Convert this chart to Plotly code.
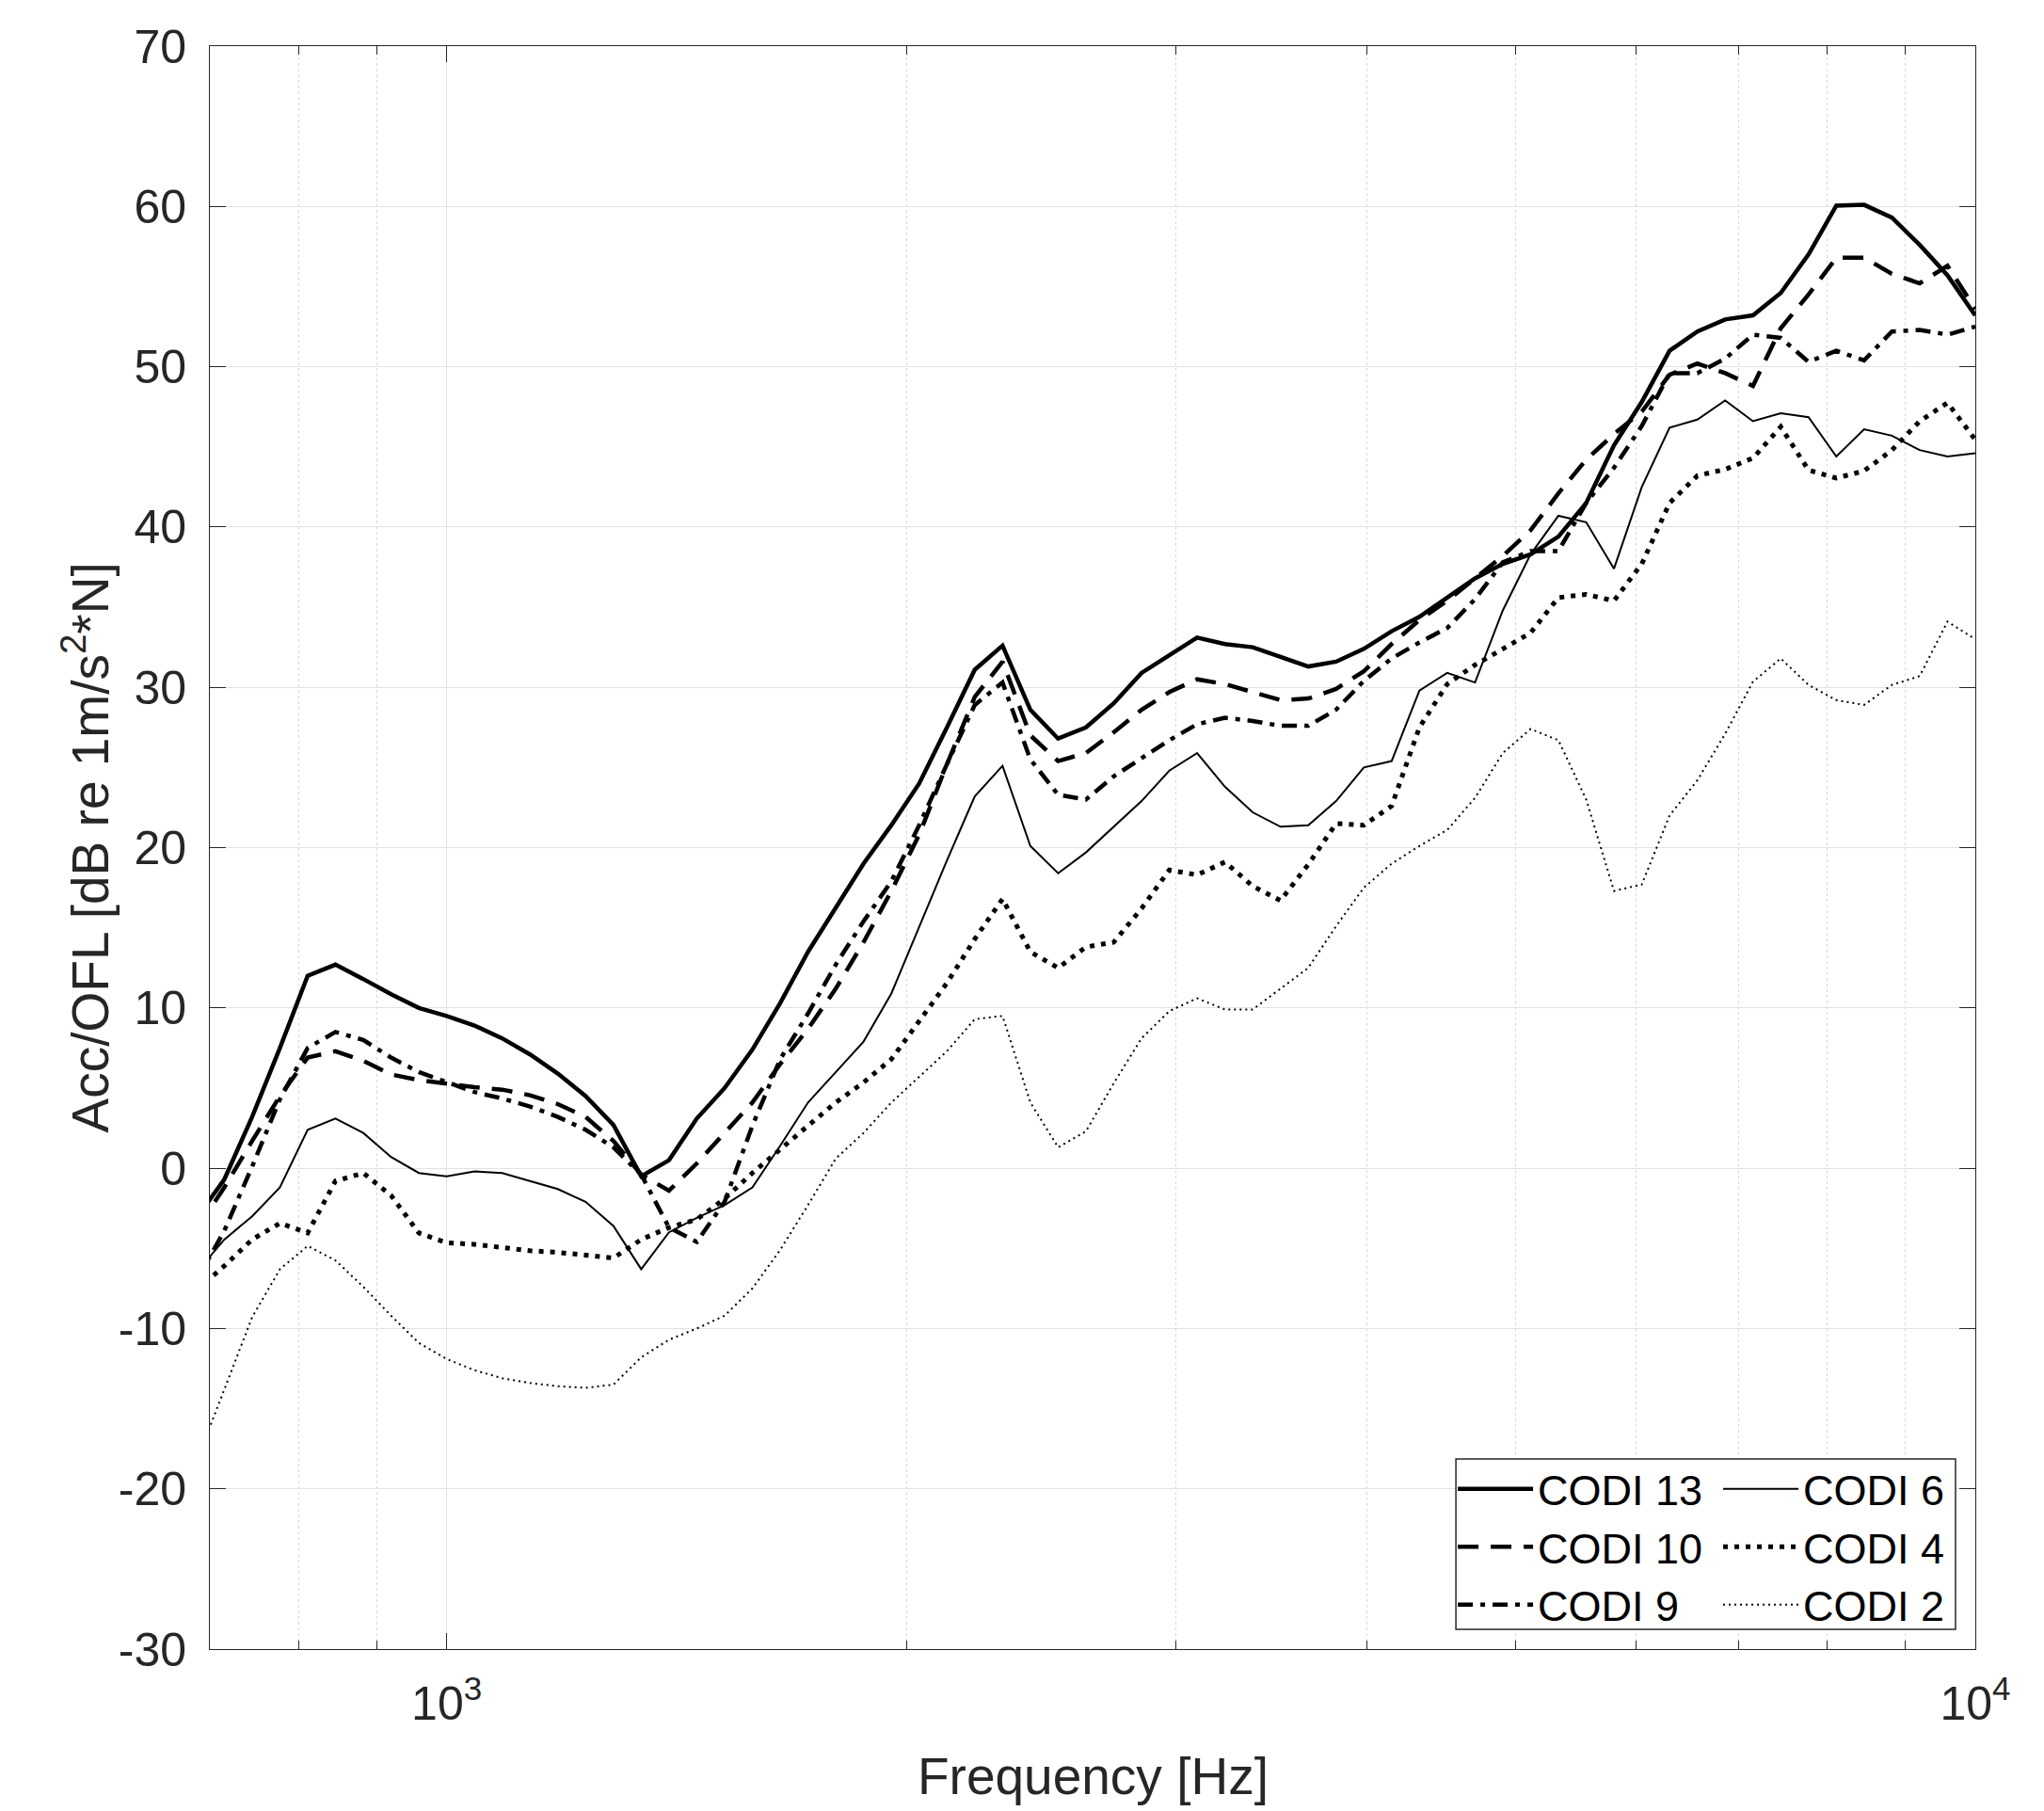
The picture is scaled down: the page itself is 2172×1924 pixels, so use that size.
import plotly.graph_objects as go

# Frequency axis (Hz)
freq = [686.1, 715.4, 746.0, 777.9, 811.1, 845.8, 882.0, 919.7, 959.0,
        1000.0, 1042.8, 1087.3, 1133.8, 1182.3, 1232.8, 1285.6, 1340.5, 1397.8, 1457.6,
        1519.9, 1584.9, 1652.7, 1723.4, 1797.0, 1873.8, 1954.0, 2037.5, 2124.6, 2215.5,
        2310.2, 2409.0, 2512.0, 2619.4, 2731.4, 2848.2, 2969.9, 3096.9, 3229.3, 3367.4,
        3511.4, 3661.5, 3818.0, 3981.1, 4151.3, 4328.8, 4513.9, 4706.9, 4908.1, 5118.0,
        5336.8, 5564.9, 5802.8, 6050.9, 6309.6, 6579.3, 6860.6, 7153.9, 7459.7, 7778.6,
        8111.1, 8457.8, 8819.4, 9196.4, 9589.5, 10000.0]

codi13 = [-3.1, -0.7, 3.2, 7.5, 12.0, 12.7, 11.8, 10.85, 10.0,
          9.5, 8.9, 8.1, 7.1, 5.9, 4.5, 2.7, -0.5, 0.5, 3.1,
          5.0, 7.4, 10.3, 13.5, 16.3, 19.0, 21.4, 24.0, 27.5, 31.1,
          32.6, 28.6, 26.8, 27.5, 29.0, 30.9, 32.0, 33.1, 32.7, 32.5,
          31.9, 31.3, 31.6, 32.4, 33.5, 34.4, 35.6, 36.8, 37.7, 38.3,
          39.4, 41.5, 45.1, 47.8, 51.0, 52.2, 52.95, 53.2, 54.6, 57.0,
          60.05, 60.1, 59.3, 57.6, 55.7, 53.2]

codi10 = [-3.8, -1.2, 1.7, 4.5, 6.9, 7.3, 6.7, 5.85, 5.5,
          5.25, 5.05, 4.9, 4.55, 4.0, 3.2, 1.7, -0.4, -1.4, 0.3,
          2.2, 4.1, 6.5, 8.7, 11.2, 14.1, 17.3, 20.8, 25.2, 29.4,
          31.6, 27.0, 25.4, 25.9, 27.2, 28.6, 29.7, 30.5, 30.2, 29.7,
          29.2, 29.3, 29.9, 31.0, 32.7, 34.2, 35.4, 36.8, 38.2, 39.8,
          42.1, 44.2, 45.8, 47.2, 49.5, 50.2, 49.6, 48.8, 52.4, 54.5,
          56.8, 56.8, 55.8, 55.2, 56.3, 53.6]

codi9 = [-7.0, -3.9, 0.1, 4.3, 7.5, 8.5, 8.0, 6.9, 6.0,
         5.35, 4.75, 4.35, 3.85, 3.2, 2.4, 1.3, -0.4, -3.7, -4.6,
         -2.1, 2.65, 6.8, 9.65, 12.7, 15.4, 17.9, 21.4, 25.2, 28.9,
         30.3, 25.5, 23.3, 23.0, 24.45, 25.6, 26.7, 27.7, 28.1, 27.9,
         27.6, 27.6, 28.6, 30.4, 31.8, 32.8, 33.7, 35.5, 37.8, 38.5,
         38.5, 41.5, 43.7, 46.3, 49.6, 49.6, 50.5, 52.0, 51.8, 50.3,
         51.0, 50.4, 52.2, 52.3, 52.0, 52.5]

codi6 = [-6.5, -4.45, -3.0, -1.2, 2.4, 3.1, 2.2, 0.7, -0.3,
         -0.5, -0.2, -0.3, -0.8, -1.3, -2.1, -3.6, -6.3, -4.0, -3.1,
         -2.3, -1.2, 1.4, 4.1, 6.0, 7.9, 10.9, 15.1, 19.2, 23.2,
         25.1, 20.1, 18.4, 19.7, 21.3, 22.9, 24.8, 25.9, 23.8, 22.2,
         21.3, 21.4, 22.9, 25.0, 25.4, 29.8, 30.9, 30.3, 34.8, 38.3,
         40.7, 40.3, 37.4, 42.5, 46.2, 46.7, 47.9, 46.6, 47.1, 46.85,
         44.4, 46.1, 45.7, 44.8, 44.4, 44.6]

codi4 = [-7.6, -6.1, -4.45, -3.43, -4.04, -0.8, -0.3, -1.7, -4.04,
         -4.65, -4.75, -4.95, -5.15, -5.25, -5.4, -5.6, -4.45, -3.7, -3.2,
         -1.9, -0.3, 1.2, 2.65, 4.1, 5.35, 6.8, 9.2, 11.55, 14.3,
         16.8, 13.5, 12.5, 13.8, 14.1, 16.2, 18.6, 18.3, 19.1, 17.6,
         16.7, 18.95, 21.5, 21.4, 22.6, 27.5, 30.2, 31.4, 32.4, 33.4,
         35.6, 35.8, 35.4, 37.7, 41.5, 43.2, 43.6, 44.3, 46.25, 43.55,
         43.05, 43.5, 44.8, 46.6, 47.75, 45.45]

codi2 = [-18.3, -13.8, -9.3, -6.3, -4.85, -5.75, -7.4, -9.2, -10.9,
         -11.9, -12.6, -13.1, -13.4, -13.6, -13.7, -13.5, -11.8, -10.7, -10.0,
         -9.2, -7.5, -5.1, -2.3, 0.6, 2.2, 4.1, 5.7, 7.3, 9.3,
         9.5, 4.1, 1.3, 2.3, 5.3, 8.1, 9.8, 10.6, 9.9, 9.9,
         11.2, 12.5, 15.1, 17.5, 19.0, 20.1, 21.1, 23.1, 25.9, 27.4,
         26.7, 23.0, 17.3, 17.7, 22.0, 24.2, 27.1, 30.35, 31.8, 30.15,
         29.2, 28.9, 30.15, 30.7, 34.1, 33.0]

names = ["CODI 13", "CODI 10", "CODI 9", "CODI 6", "CODI 4", "CODI 2"]
series = [codi13, codi10, codi9, codi6, codi4, codi2]

y_ticks = [-30, -20, -10, 0, 10, 20, 30, 40, 50, 60, 70]
y_ticktext = [str(v) for v in y_ticks]
x_ticks = [1000, 10000]
x_ticktext = ["10<sup>3</sup>", "10<sup>4</sup>"]
x_minor = [800, 900, 2000, 3000, 4000, 5000, 6000, 7000, 8000, 9000]

styles = [
    dict(width=4.5, dash="solid"),
    dict(width=4.5, dash="22px,13px"),
    dict(width=4.5, dash="16px,8px,5px,8px"),
    dict(width=2.0, dash="solid"),
    dict(width=5.0, dash="5px,7px"),
    dict(width=2.0, dash="2px,4px"),
]
legend_ids = ["legend", "legend", "legend", "legend2", "legend2", "legend2"]

fig = go.Figure()
for name, vals, st, lg in zip(names, series, styles, legend_ids):
    fig.add_trace(go.Scatter(
        x=freq, y=vals, mode="lines", name=name,
        line=dict(color="black", width=st["width"], dash=st["dash"]),
        legend=lg,
    ))

axis_color = "#262626"
grid_color = "#e2e2e2"
font_family = "Liberation Sans, Arial, sans-serif"

# the page body adds an 8px offset, so the figure is 8px smaller than the window
fig.update_layout(
    width=2164, height=1916,
    margin=dict(l=215, r=73, t=41, b=172),
    paper_bgcolor="white", plot_bgcolor="white",
    font=dict(family=font_family, color=axis_color, size=50),
    showlegend=True,
    xaxis=dict(
        type="log", range=[2.845098, 4.0],
        tickmode="array", tickvals=x_ticks, ticktext=x_ticktext,
        ticks="inside", ticklen=17, tickwidth=1, tickcolor=axis_color,
        showline=True, linecolor=axis_color, linewidth=1, mirror="allticks",
        showgrid=True, gridcolor=grid_color, gridwidth=1,
        zeroline=False,
        tickfont=dict(size=50, color=axis_color),
        ticklabelstandoff=14,
        minor=dict(tickmode="array", tickvals=x_minor, ticks="inside", ticklen=9,
                   tickwidth=1, tickcolor=axis_color,
                   showgrid=True, gridcolor="#d8d8d8", gridwidth=1, griddash="dot"),
    ),
    yaxis=dict(
        range=[-30, 70],
        tickmode="array", tickvals=y_ticks, ticktext=y_ticktext,
        ticks="inside", ticklen=17, tickwidth=1, tickcolor=axis_color,
        showline=True, linecolor=axis_color, linewidth=1, mirror="allticks",
        showgrid=True, gridcolor=grid_color, gridwidth=1,
        zeroline=False,
        tickfont=dict(size=50, color=axis_color),
        ticklabelstandoff=14,
    ),
    legend=dict(
        x=0.7042, y=0.121, xanchor="left", yanchor="top",
        bgcolor="rgba(0,0,0,0)", borderwidth=0,
        font=dict(family=font_family, size=45, color="black"),
        itemwidth=80, tracegroupgap=0,
    ),
    legend2=dict(
        x=0.8545, y=0.121, xanchor="left", yanchor="top",
        bgcolor="rgba(0,0,0,0)", borderwidth=0,
        font=dict(family=font_family, size=45, color="black"),
        itemwidth=80, tracegroupgap=0,
    ),
    shapes=[dict(type="rect", xref="paper", yref="paper",
                 x0=0.7058, x1=0.9888, y0=0.0123, y1=0.1186,
                 fillcolor="white", line=dict(color=axis_color, width=1.5),
                 layer="above")],
    annotations=[
        dict(text="Frequency [Hz]", xref="paper", yref="paper", x=0.5, y=-0.0793,
             xanchor="center", yanchor="middle", showarrow=False,
             font=dict(size=55, color=axis_color, family=font_family)),
        dict(text="Acc/OFL [dB re 1m/s<sup>2</sup>*N]", xref="paper", yref="paper",
             x=-0.0704, y=0.5, xanchor="center", yanchor="middle", textangle=-90,
             showarrow=False,
             font=dict(size=55, color=axis_color, family=font_family)),
    ],
)

fig.write_html("out.html")
